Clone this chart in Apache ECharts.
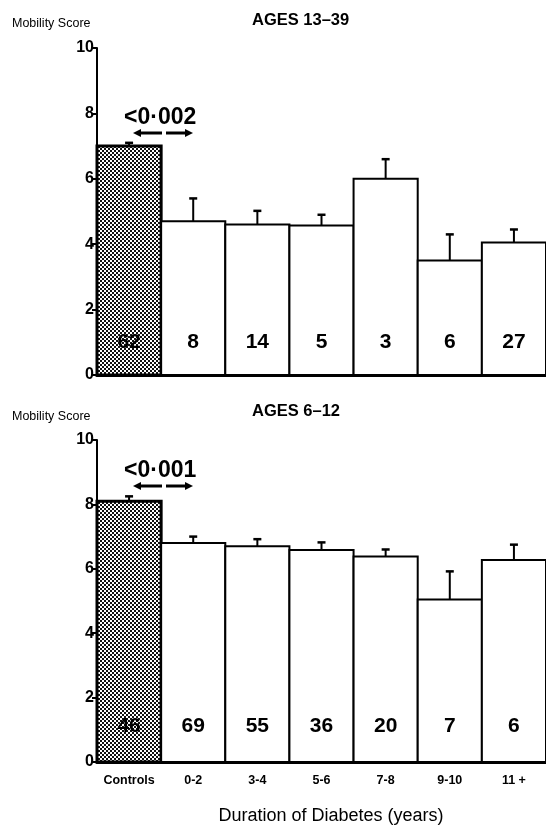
<!DOCTYPE html>
<html>
<head>
<meta charset="utf-8">
<style>
  html, body { margin: 0; padding: 0; background: #fff; }
  #chart { width: 546px; height: 826px; }
</style>
<script src="https://cdn.jsdelivr.net/npm/echarts@6/dist/echarts.min.js"></script>
</head>
<body>
<div id="chart"></div>
<script>
// Mobility score by duration of diabetes, two age groups
const categories = ['Controls', '0-2', '3-4', '5-6', '7-8', '9-10', '11 +'];

// Ages 13-39
const olderMean  = [7.0, 4.7, 4.6, 4.57, 6.0, 3.5, 4.05];
const olderUpper = [7.1, 5.4, 5.02, 4.9, 6.6, 4.3, 4.45];
const olderN     = [62, 8, 14, 5, 3, 6, 27];

// Ages 6-12
const youngerMean  = [8.1, 6.8, 6.7, 6.58, 6.38, 5.05, 6.27];
const youngerUpper = [8.25, 7.0, 6.92, 6.82, 6.6, 5.92, 6.75];
const youngerN     = [46, 69, 55, 36, 20, 7, 6];

const yTicks = [0, 2, 4, 6, 8, 10];

const FONT = '"Liberation Sans", Arial, Helvetica, sans-serif';

// fine checkerboard stipple for the control group bar
function stipple() {
  const c = document.createElement('canvas');
  c.width = 4; c.height = 4;
  const g = c.getContext('2d');
  g.fillStyle = '#fff';
  g.fillRect(0, 0, 4, 4);
  g.fillStyle = '#111';
  g.fillRect(0, 0, 2, 2);
  g.fillRect(2, 2, 2, 2);
  return c;
}
const pattern = { image: stipple(), repeat: 'repeat' };

// adjacent bars spanning the full category band, with the group size printed inside
function makeBarRenderer(labelLift) {
  return function (params, api) {
    const x = api.value(0);
    const top = api.coord([x, api.value(1)]);
    const base = api.coord([x, 0]);
    const w = api.size([1, 0])[0];
    const isControl = x === 0;
    return {
      type: 'group',
      children: [
        { type: 'rect',
          shape: { x: top[0] - w / 2, y: top[1], width: w, height: base[1] - top[1] },
          style: { fill: isControl ? pattern : '#fff', stroke: '#000',
                   lineWidth: isControl ? 3 : 2 } },
        { type: 'text', x: top[0], y: base[1] - labelLift,
          style: { text: String(api.value(2)), fill: '#000',
                   font: 'bold 21px ' + FONT, textAlign: 'center',
                   textVerticalAlign: 'bottom' } }
      ]
    };
  };
}

function renderError(params, api) {
  const x = api.value(0);
  const base = api.coord([x, api.value(1)]);
  const top = api.coord([x, api.value(2)]);
  return {
    type: 'group',
    children: [
      { type: 'line', shape: { x1: base[0], y1: base[1], x2: top[0], y2: top[1] },
        style: { stroke: '#000', lineWidth: 2 } },
      { type: 'line', shape: { x1: top[0] - 4, y1: top[1], x2: top[0] + 4, y2: top[1] },
        style: { stroke: '#000', lineWidth: 2.5 } }
    ]
  };
}

function yAxis(gridIndex) {
  return {
    type: 'value', gridIndex: gridIndex,
    min: yTicks[0], max: yTicks[yTicks.length - 1], interval: 2,
    splitLine: { show: false },
    axisLine: { show: true, lineStyle: { color: '#000', width: 2 } },
    axisTick: { show: true, inside: false, length: 5, lineStyle: { color: '#000', width: 2 } },
    axisLabel: { color: '#000', fontFamily: FONT, fontWeight: 'bold', fontSize: 16, margin: 3 }
  };
}

function xAxis(gridIndex, showLabels) {
  return {
    type: 'category', gridIndex: gridIndex, data: categories,
    axisLine: { show: true, lineStyle: { color: '#000', width: 3 } },
    axisTick: { show: false },
    axisLabel: { show: showLabels, interval: 0, color: '#000', fontFamily: FONT,
                 fontWeight: 'bold', fontSize: 12.5, margin: 12 }
  };
}

function barSeries(idx, means, counts, lift) {
  return {
    type: 'custom', xAxisIndex: idx, yAxisIndex: idx,
    data: means.map((v, i) => [i, v, counts[i]]),
    renderItem: makeBarRenderer(lift),
    encode: { x: 0, y: 1 },
    silent: true, z: 2
  };
}

function errorSeries(idx, means, uppers) {
  return {
    type: 'custom', xAxisIndex: idx, yAxisIndex: idx,
    data: means.map((v, i) => [i, v, uppers[i]]),
    renderItem: renderError,
    encode: { x: 0, y: [1, 2] },
    silent: true, z: 3
  };
}

// a pair of opposite arrows under the p-value
function arrows(y) {
  const head = (tipX, dir) => ({
    type: 'polygon',
    shape: { points: [[tipX, y], [tipX - dir * 8, y - 4], [tipX - dir * 8, y + 4]] },
    style: { fill: '#000' }
  });
  return [
    { type: 'line', shape: { x1: 140, y1: y, x2: 162, y2: y }, style: { stroke: '#000', lineWidth: 3 } },
    head(133, -1),
    { type: 'line', shape: { x1: 166, y1: y, x2: 186, y2: y }, style: { stroke: '#000', lineWidth: 3 } },
    head(193, 1)
  ];
}

function txt(x, y, text, size, weight, align) {
  return {
    type: 'text', x: x, y: y,
    style: { text: text, fill: '#000', font: weight + ' ' + size + 'px ' + FONT,
             textAlign: align || 'left', textVerticalAlign: 'middle' }
  };
}

const chart = echarts.init(document.getElementById('chart'), null, { renderer: 'canvas' });

chart.setOption({
  backgroundColor: '#fff',
  animation: false,
  grid: [
    { left: 97, top: 48, width: 454, height: 327, containLabel: false },
    { left: 97, top: 440, width: 454, height: 322, containLabel: false }
  ],
  xAxis: [xAxis(0, false), xAxis(1, true)],
  yAxis: [yAxis(0), yAxis(1)],
  series: [
    barSeries(0, olderMean, olderN, 22),
    errorSeries(0, olderMean, olderUpper),
    barSeries(1, youngerMean, youngerN, 25),
    errorSeries(1, youngerMean, youngerUpper)
  ],
  graphic: [
    txt(12, 24, 'Mobility Score', 12.5, 'normal'),
    txt(252, 20, 'AGES 13\u201339', 16.5, 'bold'),
    txt(124, 118, '<0\u00b7002', 23, 'bold'),
    ...arrows(133),
    txt(12, 417, 'Mobility Score', 12.5, 'normal'),
    txt(252, 411, 'AGES 6\u201312', 16.5, 'bold'),
    txt(124, 471, '<0\u00b7001', 23, 'bold'),
    ...arrows(486),
    txt(331, 816, 'Duration of Diabetes (years)', 18, 'normal', 'center')
  ]
});
</script>
</body>
</html>
